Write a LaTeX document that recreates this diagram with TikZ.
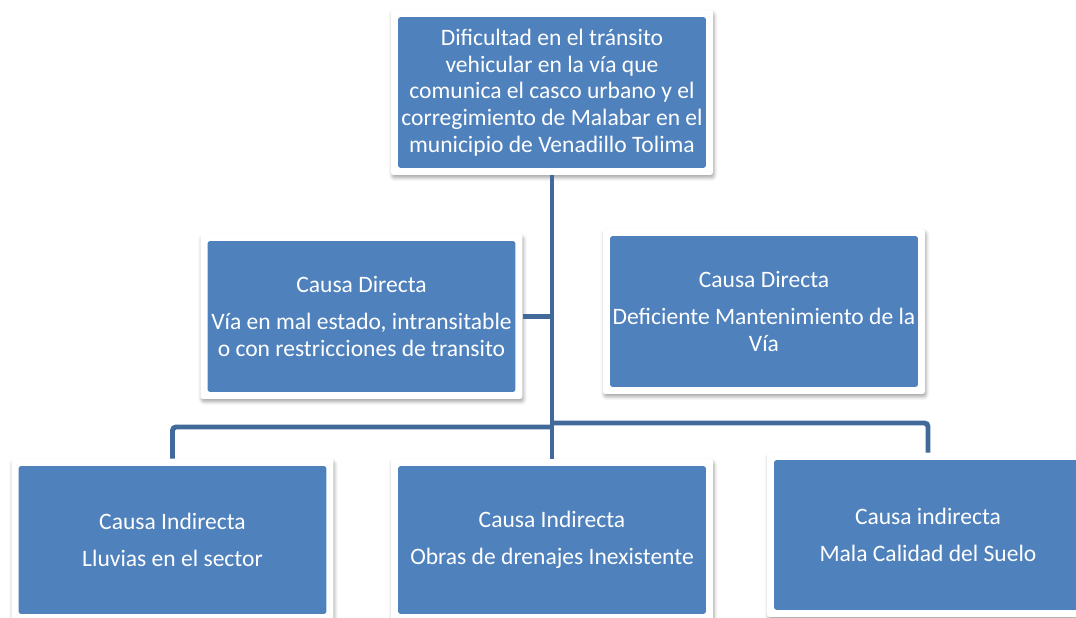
\documentclass[tikz,border=0pt]{standalone}
\usepackage{fontspec}
\setmainfont{Carlito}
\usetikzlibrary{
    shadows.blur,
    calc
}
\definecolor{boxblue}{HTML}{4F81BD}
\definecolor{linkblue}{HTML}{41699A}
\tikzset {
    cause box/.style = {
        rectangle, rounded corners = 1.5pt,
        fill = white, inner sep = 0pt,
        minimum width = 6.44cm, minimum height = 3.3cm,
        text = white, align = center,
        font = \fontsize{13.4pt}{15.2pt}\selectfont,
        blur shadow = {shadow xshift = 0.6pt, shadow yshift = -1.6pt,
            shadow blur radius = 2pt, shadow opacity = 35},
        path picture = {
            \fill [boxblue]
            ([shift = {(4pt, 4pt)}]path picture bounding box.south west)
            rectangle
            ([shift = {(-4pt, -4pt)}]path picture bounding box.north east);
        }
    },
    link/.style = {draw = linkblue, line width = 2.8pt, rounded corners = 2pt}
}
\begin{document}
\begin{tikzpicture}[x = 0.02cm, y = -0.02cm]
    \useasboundingbox (0, 0) rectangle (1076, 618);
    % problema
    \node (top) [cause box] at (552, 92.5) {Dificultad en el tránsito\\
        vehicular en la vía que\\
        comunica el casco urbano y el\\
        corregimiento de Malabar en el\\
        municipio de Venadillo Tolima};
    % causas directas
    \node (dir1) [cause box] at (361.5, 316.5) {Causa Directa\\[6pt]
        Vía en mal estado, intransitable\\
        o con restricciones de transito};
    \node (dir2) [cause box] at (764, 311.5) {Causa Directa\\[6pt]
        Deficiente Mantenimiento de la\\
        Vía};
    % causas indirectas
    \node (ind1) [cause box, minimum height = 3.24cm] at (172.5, 540) {Causa Indirecta\\[6pt]
        Lluvias en el sector};
    \node (ind2) [cause box, minimum height = 3.24cm] at (552, 540) {Causa Indirecta\\[6pt]
        Obras de drenajes Inexistente};
    \node (ind3) [cause box, minimum height = 3.28cm] at (928, 535) {Causa indirecta\\[6pt]
        Mala Calidad del Suelo};
    \coordinate (busl) at (552, 427);
    \coordinate (busr) at (552, 423);
    \draw [link] (top.south) -- (ind2.north);
    \draw [link] (dir1.east) -- (dir1.east -| top.south);
    \draw [link] (ind1.north) |- (busl);
    \draw [link] (ind3.north) |- (busr);
\end{tikzpicture}
\end{document}
